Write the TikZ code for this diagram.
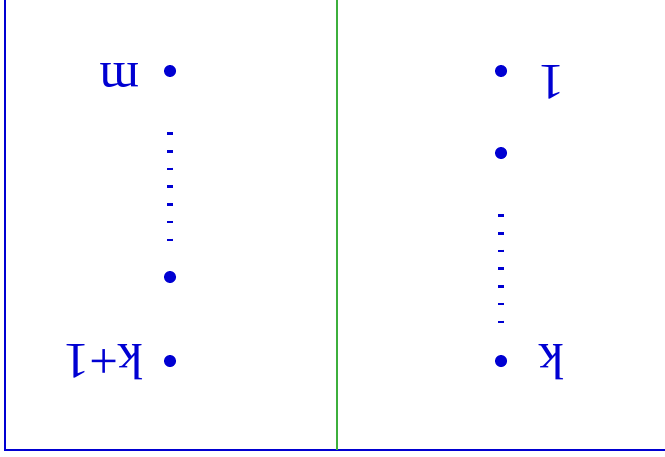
\documentclass[tikz,border=0pt]{standalone}
\usepackage{fontspec}
\setmainfont{Liberation Serif}
\usepackage{tikz}
\usetikzlibrary{positioning}
\definecolor{ptblue}{RGB}{0,0,210}
\definecolor{ptgreen}{RGB}{60,175,60}

\begin{document}
\begin{tikzpicture}[
    x=0.02cm, y=-0.02cm,
    dot/.style={circle, fill=ptblue, inner sep=0pt, minimum size=0.24cm},
    lbl/.style={text=ptblue, rotate=180, inner sep=0pt, font=\fontsize{29}{30}\selectfont},
    ticks/.style={ptblue, line width=0.12cm, dash pattern=on 0.05cm off 0.304cm,
                  shorten <=1.1cm, shorten >=0.56cm, xshift=2}
]
\useasboundingbox (0,0) rectangle (665,456);

% Frame
\draw[ptblue, line width=0.04cm] (5,0) -- (5,450) -- (665,450);
\draw[ptgreen, line width=0.04cm] (337,0) -- (337,450);

% Left column
\node[dot] (m) at (170,71) {};
\node[dot] (mlow) at (170,277) {};
\node[dot] (kone) at (170,361) {};
\node[lbl] (mlbl) at (120,76) {m};
\node[lbl] (konelbl) at (104,362) {k+1};
\draw[ticks] (m) -- (mlow);

% Right column
\node[dot] (one) at (501,71) {};
\node[dot] (two) at (501,153) {};
\node[dot] (k) at (501,361) {};
\node[lbl] (onelbl) at (552,82) {1};
\node[lbl] (klbl) at (552,362) {k};
\draw[ticks] (two) -- (k);

\end{tikzpicture}
\end{document}
